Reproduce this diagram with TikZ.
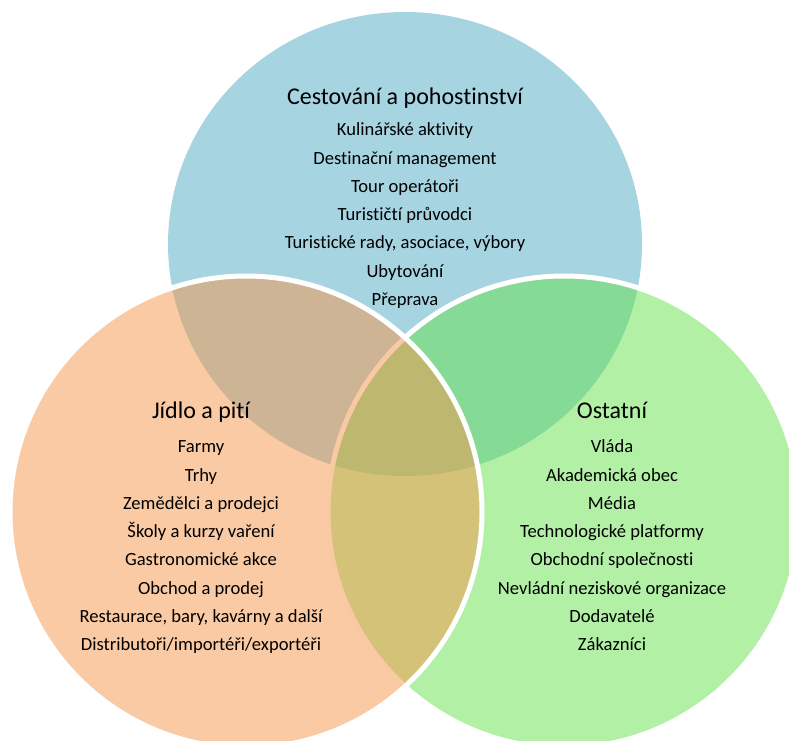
\documentclass[tikz,border=0pt]{standalone}
\usepackage{fontspec}
\setmainfont[RawFeature={-liga;-clig;-dlig;-calt;-rlig}]{Carlito}
\definecolor{cBlue}{RGB}{166,212,225}
\definecolor{cGreen}{RGB}{101,225,77}
\definecolor{cOrange}{RGB}{245,149,73}
\newcommand{\tI}{t\kern0pt i}
\begin{document}
\begin{tikzpicture}[x=1pt,y=-1pt,
  ttl/.style={anchor=base,inner sep=0pt,font=\fontsize{24}{28}\selectfont,text=black},
  itm/.style={anchor=base,inner sep=0pt,font=\fontsize{18.6}{22}\selectfont,text=black},
  venn/.style={draw=white,line width=5pt,fill opacity=0.5}]
\useasboundingbox (0,0) rectangle (789,740);
\clip (0,0) rectangle (789,740);
% circles
\fill[cBlue] (405,244) ellipse[x radius=237pt,y radius=232pt];
\draw[venn,fill=cGreen] (564,512) circle[radius=236pt];
\draw[venn,fill=cOrange] (246,512) circle[radius=236pt];
% top circle texts
\node[ttl] (t0) at (405,104) {Cestování a pohos\tI nství};
\node[itm] (t1) at (405,135.7) {Kulinářské ak\tI vity};
\node[itm] (t2) at (405,164.0) {Destinační management};
\node[itm] (t3) at (405,192.3) {Tour operátoři};
\node[itm] (t4) at (405,220.6) {Turističtí průvodci};
\node[itm] (t5) at (405,248.9) {Turistické rady, asociace, výbory};
\node[itm] (t6) at (405,277.2) {Ubytování};
\node[itm] (t7) at (405,305.5) {Přeprava};
% left circle texts
\node[ttl] (l0) at (201,418) {Jídlo a pi\kern0pt tí};
\node[itm] (l1) at (201,452.7) {Farmy};
\node[itm] (l2) at (201,481.0) {Trhy};
\node[itm] (l3) at (201,509.3) {Zemědělci a prodejci};
\node[itm] (l4) at (201,537.6) {Školy a kurzy vaření};
\node[itm] (l5) at (201,565.9) {Gastronomické akce};
\node[itm] (l6) at (201,594.2) {Obchod a prodej};
\node[itm] (l7) at (201,622.5) {Restaurace, bary, kavárny a další};
\node[itm] (l8) at (201,650.8) {Distributoři/importéři/exportéři};
% right circle texts
\node[ttl] (r0) at (612,418) {Ostatní};
\node[itm] (r1) at (612,452.7) {Vláda};
\node[itm] (r2) at (612,481.0) {Akademická obec};
\node[itm] (r3) at (612,509.3) {Média};
\node[itm] (r4) at (612,537.6) {Technologické platformy};
\node[itm] (r5) at (612,565.9) {Obchodní společnosti};
\node[itm] (r6) at (612,594.2) {Nevládní neziskové organizace};
\node[itm] (r7) at (612,622.5) {Dodavatelé};
\node[itm] (r8) at (612,650.8) {Zákazníci};
\end{tikzpicture}
\end{document}
